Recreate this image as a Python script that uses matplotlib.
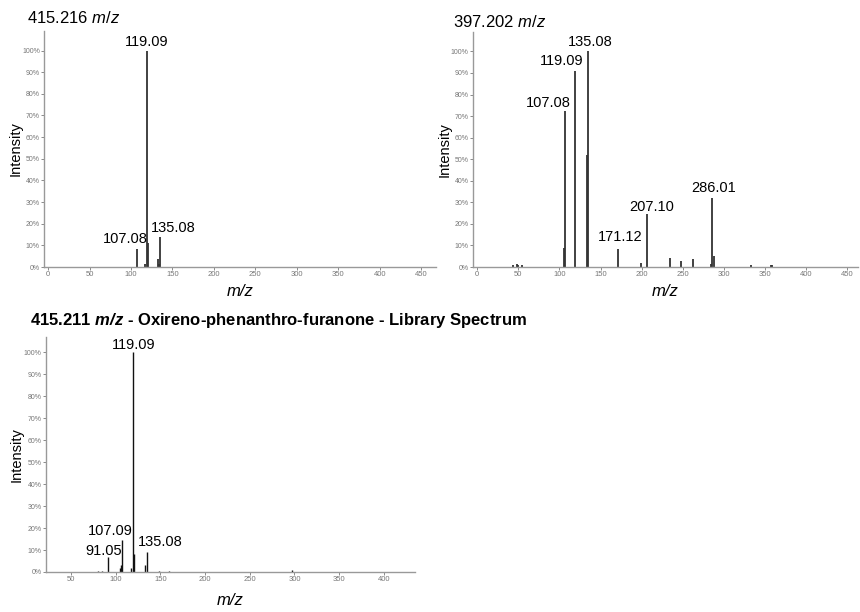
import matplotlib.pyplot as plt

plt.rcParams['font.family'] = ['Liberation Sans', 'DejaVu Sans']
plt.rcParams['mathtext.fontset'] = 'custom'
plt.rcParams['mathtext.rm'] = 'Liberation Sans'
plt.rcParams['mathtext.it'] = 'Liberation Sans:italic'
plt.rcParams['mathtext.bf'] = 'Liberation Sans:bold'
plt.rcParams['mathtext.bfit'] = 'Liberation Sans:italic:bold'

# Spectrum 1: 415.216 m/z
mz_a = [107.08, 117.0, 119.09, 120.0, 133.0, 134.0, 135.08]
int_a = [8.5, 1.5, 100.0, 11.0, 3.7, 1.5, 14.0]
lab_a = ['107.08', '119.09', '135.08']
lab_a_pos = [(93, 13.0), (119, 104.0), (151, 18.0)]

# Spectrum 2: 397.202 m/z
mz_b = [44.0, 49.0, 50.0, 54.0, 106.0, 107.08, 119.09, 133.0, 135.08, 171.12,
        199.0, 207.10, 234.0, 248.0, 263.0, 284.0, 286.01, 288.0, 333.0, 357.0, 358.0]
int_b = [1.0, 1.5, 0.8, 0.8, 8.7, 72.5, 90.8, 52.0, 100.0, 8.5,
         2.0, 24.6, 4.0, 3.0, 3.5, 1.5, 32.0, 5.0, 1.0, 1.0, 1.0]
lab_b = ['107.08', '119.09', '135.08', '171.12', '207.10', '286.01']
lab_b_pos = [(86, 76.0), (103, 95.5), (137.5, 104.5), (174, 13.7), (211.7, 28.0), (287, 36.5)]

# Library spectrum: 415.211 m/z
mz_c = [80.0, 85.0, 91.05, 105.0, 106.0, 107.09, 117.0, 119.09, 120.0, 133.0,
        135.08, 148.0, 160.0, 297.0]
int_c = [0.5, 0.6, 6.8, 2.0, 3.0, 14.5, 2.0, 100.0, 8.0, 3.0,
         9.0, 0.5, 0.4, 1.0]
lab_c = ['91.05', '107.09', '119.09', '135.08']
lab_c_pos = [(86, 9.5), (94, 18.6), (120, 103.5), (150, 13.6)]

fig = plt.figure(figsize=(8.6, 6.12), dpi=100)

def style_axis(ax, xlim, ylim, xticks, ylab_x):
    ax.set_xlim(*xlim)
    ax.set_ylim(*ylim)
    for s in ['top', 'right']:
        ax.spines[s].set_visible(False)
    for s in ['left', 'bottom']:
        ax.spines[s].set_color('#999999')
        ax.spines[s].set_linewidth(1.0)
    ax.set_xticks(xticks)
    ax.set_yticks(range(0, 101, 10))
    ax.set_yticklabels([f'{v}%' for v in range(0, 101, 10)])
    ax.tick_params(axis='both', labelsize=5, colors='#777777', length=2, width=0.6, pad=1)
    ax.tick_params(axis='x', labelsize=5.5)
    ax.set_ylabel('Intensity', fontsize=10.5)
    ax.yaxis.set_label_coords(ylab_x, 0.5)
    ax.set_xlabel('m/z', fontsize=12, style='italic', labelpad=4)

def draw_spectrum(ax, mz, inten, labels, label_pos, color, lw):
    ax.vlines(mz, 0, inten, color=color, linewidth=lw)
    for t, (x, y) in zip(labels, label_pos):
        ax.text(x, y, t, ha='center', va='center', fontsize=10.5)

ax1 = fig.add_axes([0.0512, 0.5637, 0.4558, 0.3856])
draw_spectrum(ax1, mz_a, int_a, lab_a, lab_a_pos, '#333333', 1.3)
style_axis(ax1, (-5, 468), (0, 109), range(0, 451, 50), -0.054)

ax2 = fig.add_axes([0.55, 0.5637, 0.4477, 0.3840])
draw_spectrum(ax2, mz_b, int_b, lab_b, lab_b_pos, '#333333', 1.3)
style_axis(ax2, (-5, 463), (0, 109), range(0, 451, 50), -0.055)

ax3 = fig.add_axes([0.0535, 0.0654, 0.4291, 0.3839])
draw_spectrum(ax3, mz_c, int_c, lab_c, lab_c_pos, '#111111', 1.0)
style_axis(ax3, (22, 435), (0, 107), range(50, 401, 50), -0.06)
ax3.xaxis.labelpad = 7

fig.text(0.031, 0.971, '415.216 $m/z$', fontsize=12, ha='left', va='center')
fig.text(0.527, 0.964, '397.202 $m/z$', fontsize=12, ha='left', va='center')
fig.text(0.035, 0.4755,
         r'415.211 $\mathbfit{m/z}$ - Oxireno-phenanthro-furanone - Library Spectrum',
         fontsize=12, fontweight='bold', ha='left', va='center')

fig.savefig('out.png', dpi=100)
